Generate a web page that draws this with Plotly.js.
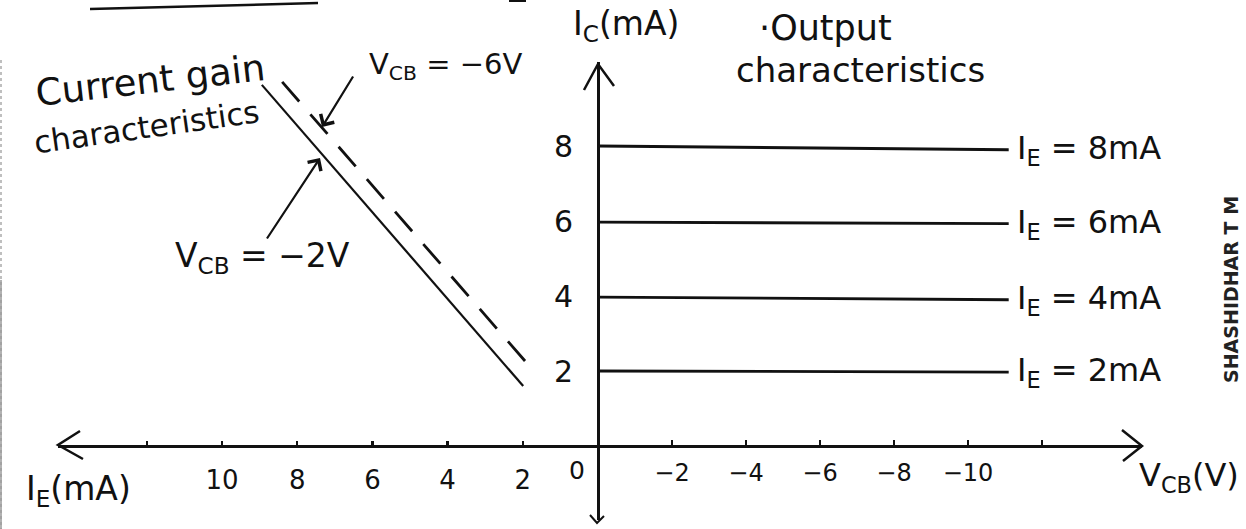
<!DOCTYPE html>
<html>
<head>
<meta charset="utf-8">
<script src="https://cdn.plot.ly/plotly-3.0.1.min.js"></script>
<style>html,body{margin:0;padding:0;background:#fff;}#chart{width:1246px;height:529px;}</style>
</head>
<body>
<div id="chart"></div>
<script>
// ---- data ----
// current gain characteristics: I_C (mA) vs I_E (mA)
const gainIE_Vcb2 = [8.94, 1.99];     // solid line, V_CB = -2V
const gainIC_Vcb2 = [9.63, 1.60];
const gainIE_Vcb6 = [8.40, 1.77];     // dashed line, V_CB = -6V
const gainIC_Vcb6 = [9.71, 2.07];
// output characteristics: I_C (mA) vs V_CB (V)
const outVcb = [0, -11.1];
const outIE = [8, 6, 4, 2];            // emitter current of each curve
const outIC = [[8.0, 7.9], [5.97, 5.93], [3.97, 3.9], [2.0, 1.97]];
// tick labels
const ieTickVals = [12, 10, 8, 6, 4, 2];
const ieTickText = ['', '10', '8', '6', '4', '2'];
const vcbTickVals = [-2, -4, -6, -8, -10, -12];
const vcbTickText = ['\u22122', '\u22124', '\u22126', '\u22128', '\u221210', ''];
const icTickVals = [2, 4, 6, 8];
const icTickText = ['2', '4', '6', '8'];

// ---- layout helpers ----
const W = 1246, H = 529, MT = 62, MB = 9;
const PH = H - MT - MB;
const px = x => x / W;
const py = y => (H - MB - y) / PH;
const FONT = 'DejaVu Sans, sans-serif';
const INK = '#111';

const traces = [
  {x: gainIE_Vcb2, y: gainIC_Vcb2, xaxis: 'x', yaxis: 'y', mode: 'lines',
   line: {color: INK, width: 2.2}, hoverinfo: 'skip'},
  {x: gainIE_Vcb6, y: gainIC_Vcb6, xaxis: 'x', yaxis: 'y', mode: 'lines',
   line: {color: INK, width: 2.8, dash: '26px,17px'}, hoverinfo: 'skip'}
];
outIE.forEach((ie, i) => {
  traces.push({x: outVcb, y: outIC[i], xaxis: 'x2', yaxis: 'y', mode: 'lines',
    line: {color: INK, width: 2.8}, hoverinfo: 'skip'});
});

const annotations = [];
function txt(t, x, y, size, opts) {
  annotations.push(Object.assign({text: t, x: px(x), y: py(y), xref: 'paper', yref: 'paper',
    xanchor: 'center', yanchor: 'middle',
    showarrow: false, font: {family: FONT, size: size, color: INK}}, opts || {}));
}
txt('Current gain', 150, 80, 37, {textangle: -6.5});
txt('characteristics', 146, 127, 31, {textangle: -8});
txt('V<sub>CB</sub> = \u22126V', 445, 66, 29);
txt('V<sub>CB</sub> = \u22122V', 262, 257, 33);
txt('I<sub>C</sub>(mA)', 626, 25, 33);
txt('\u00b7Output', 826, 28, 35);
txt('characteristics', 860, 70, 34);
txt('I<sub>E</sub>(mA)', 78, 490, 33);
txt('V<sub>CB</sub>(V)', 1189, 477, 32);
txt('0', 577, 470, 25);
outIE.forEach((ie, i) => {
  annotations.push({text: 'I<sub>E</sub> = ' + ie + 'mA', x: outVcb[1], y: outIC[i][1],
    xref: 'x2', yref: 'y', xanchor: 'left', yanchor: 'middle', xshift: 6, showarrow: false,
    font: {family: FONT, size: 32, color: INK}});
});
txt('SHASHIDHAR T M', 1231, 290, 19, {textangle: -90, font: {family: 'DejaVu Sans, sans-serif', size: 19, color: '#222', weight: 'bold'}});
// pointer arrows
annotations.push({text: '', x: px(322), y: py(127), xref: 'paper', yref: 'paper', showarrow: true,
  ax: 32, ay: -52, arrowhead: 4, arrowsize: 1.4, arrowwidth: 2.2, arrowcolor: INK});
annotations.push({text: '', x: px(320), y: py(158), xref: 'paper', yref: 'paper', showarrow: true,
  ax: -54, ay: 82, arrowhead: 4, arrowsize: 1.4, arrowwidth: 2.2, arrowcolor: INK});

function pth(pts) {
  return 'M' + pts.map(p => px(p[0]) + ',' + py(p[1])).join(' L');
}
const shapes = [
  {type: 'path', xref: 'paper', yref: 'paper', path: pth([[80, 431], [58, 445], [83, 459]]), line: {color: INK, width: 2.5}},
  {type: 'path', xref: 'paper', yref: 'paper', path: pth([[1122, 430], [1142, 446], [1123, 461]]), line: {color: INK, width: 2.5}},
  {type: 'path', xref: 'paper', yref: 'paper', path: pth([[584, 90], [598, 64], [614, 86]]), line: {color: INK, width: 2.5}},
  {type: 'path', xref: 'paper', yref: 'paper', path: pth([[590, 515], [597, 523], [604, 516]]), line: {color: INK, width: 2}},
  {type: 'path', xref: 'paper', yref: 'paper', path: pth([[90, 9], [318, 3]]), line: {color: INK, width: 2.5}},
  {type: 'path', xref: 'paper', yref: 'paper', path: pth([[509, 1], [526, 1]]), line: {color: INK, width: 2}},
  {type: 'path', xref: 'paper', yref: 'paper', path: pth([[1, 60], [1, 529]]), line: {color: '#aaa', width: 1.5, dash: 'dot'}},
  {type: 'path', xref: 'paper', yref: 'paper', path: pth([[1, 280], [1, 529]]), line: {color: '#999', width: 1.5}}
];

const axPos = py(446);
const layout = {
  width: W, height: H,
  margin: {l: 0, r: 0, t: MT, b: MB},
  paper_bgcolor: '#fff', plot_bgcolor: '#fff',
  showlegend: false,
  xaxis: {domain: [px(58), px(598)], range: [(598 - 58) / 37.6, 0], anchor: 'free', position: axPos,
    showgrid: false, zeroline: false, showline: true, linecolor: INK, linewidth: 3,
    tickmode: 'array', tickvals: ieTickVals, ticktext: ieTickText,
    ticks: 'inside', ticklen: 4, tickwidth: 2.5, tickcolor: INK, ticklabelstandoff: 10,
    tickfont: {family: FONT, size: 26, color: INK}, fixedrange: true},
  xaxis2: {domain: [px(598), px(1142)], range: [0, -(1142 - 598) / 37], anchor: 'free', position: axPos,
    showgrid: false, zeroline: false, showline: true, linecolor: INK, linewidth: 3,
    tickmode: 'array', tickvals: vcbTickVals, ticktext: vcbTickText,
    ticks: 'inside', ticklen: 5, tickwidth: 2, tickcolor: INK, ticklabelstandoff: 4,
    tickfont: {family: FONT, size: 24, color: INK}, fixedrange: true},
  yaxis: {domain: [0, 1], range: [-(520 - 446) / 37.5, (446 - 62) / 37.5], anchor: 'free', position: px(598),
    side: 'left', showgrid: false, zeroline: false, showline: true, linecolor: INK, linewidth: 3,
    tickmode: 'array', tickvals: icTickVals, ticktext: icTickText, ticks: '', ticklabelstandoff: 18,
    tickfont: {family: FONT, size: 30, color: INK}, fixedrange: true},
  annotations: annotations,
  shapes: shapes
};
Plotly.newPlot('chart', traces, layout, {displayModeBar: false, staticPlot: true});
</script>
</body>
</html>
